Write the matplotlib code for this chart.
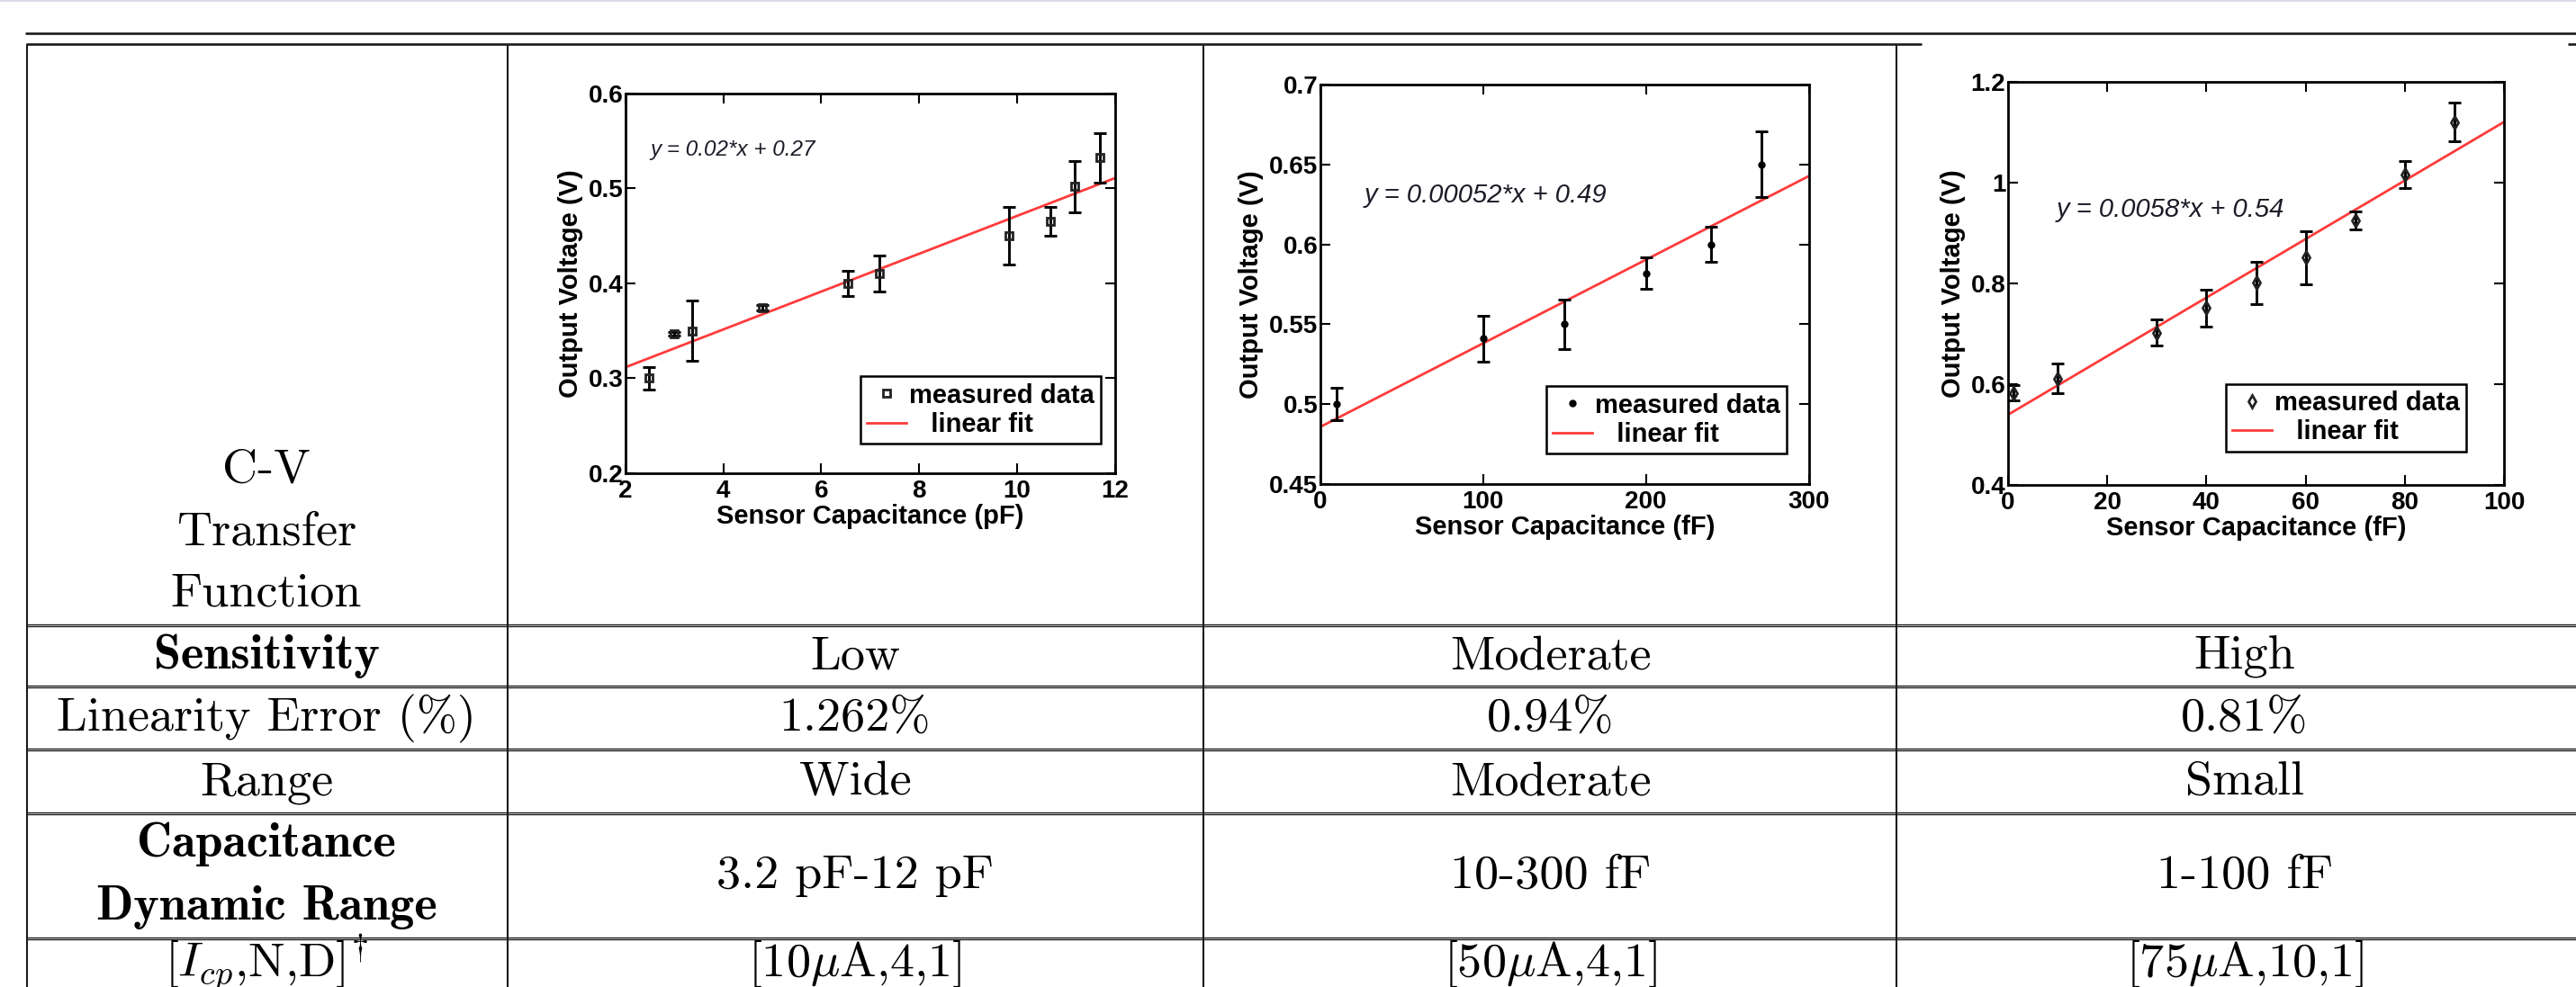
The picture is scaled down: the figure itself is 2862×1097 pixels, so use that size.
import numpy as np
import matplotlib.pyplot as plt
from matplotlib.ticker import FormatStrFormatter

# ---- data ----
cap_low = [2.47, 2.99, 3.36, 4.79, 6.55, 7.18, 9.84, 10.69, 11.19, 11.69]        # pF
volt_low = [0.300, 0.347, 0.350, 0.374, 0.400, 0.410, 0.450, 0.465, 0.502, 0.532]
err_low = [0.012, 0.002, 0.032, 0.003, 0.013, 0.019, 0.030, 0.015, 0.027, 0.026]
fit_low = (0.0199, 0.2718)

cap_mod = [10, 100, 150, 200, 240, 271]                                            # fF
volt_mod = [0.500, 0.541, 0.550, 0.582, 0.600, 0.650]
err_mod = [0.010, 0.0145, 0.0153, 0.010, 0.011, 0.0206]
fit_mod = (0.000523, 0.4858)

cap_high = [1, 10, 30, 40, 50, 60, 70, 80, 90]                                     # fF
volt_high = [0.582, 0.611, 0.702, 0.751, 0.801, 0.851, 0.926, 1.017, 1.121]
err_high = [0.015, 0.029, 0.026, 0.037, 0.0415, 0.053, 0.018, 0.027, 0.039]
fit_high = (0.00582, 0.539)

eq_texts = ['y = 0.02*x + 0.27', 'y = 0.00052*x + 0.49', 'y = 0.0058*x + 0.54']
xlabels = ['Sensor Capacitance (pF)', 'Sensor Capacitance (fF)', 'Sensor Capacitance (fF)']
xticks = [[2, 4, 6, 8, 10, 12], [0, 100, 200, 300], [0, 20, 40, 60, 80, 100]]
yticks = [[0.2, 0.3, 0.4, 0.5, 0.6], [0.45, 0.5, 0.55, 0.6, 0.65, 0.7],
          [0.4, 0.6, 0.8, 1.0, 1.2]]

# ---- table text ----
first_cell = ['C-V', 'Transfer', 'Function']
sensitivity = ['Low', 'Moderate', 'High']
linearity = ['1.262%', '0.94%', '0.81%']
ranges = ['Wide', 'Moderate', 'Small']
dyn_range = ['3.2 pF-12 pF', '10-300 fF', '1-100 fF']
icp_nd = [r'[10$\mu$A,4,1]', r'[50$\mu$A,4,1]', r'[75$\mu$A,10,1]']

W, H = 2862, 1097
plt.rcParams['mathtext.fontset'] = 'cm'
plt.rcParams['axes.unicode_minus'] = False

fig = plt.figure(figsize=(W / 100, H / 100), dpi=100)
fig.patch.set_facecolor('white')

# background axes in pixel coordinates for the table rules and text
bg = fig.add_axes([0, 0, 1, 1])
bg.set_xlim(0, W)
bg.set_ylim(H, 0)
bg.axis('off')

def rule(x0, x1, y, lw=1.9, color='#1a1a1a'):
    bg.plot([x0, x1], [y, y], color=color, lw=lw, solid_capstyle='butt')

rule(0, W, 0.8, lw=1.2, color='#d3d6e4')
rule(28, W, 36.5)
rule(29, 2135, 49)
rule(2853, W, 49)
for y in [695, 763, 833, 904, 1043]:
    rule(29, W, y - 1.0, lw=0.95)
    rule(29, W, y + 1.4, lw=0.95)
for x in [30, 564, 1337, 2107]:
    bg.plot([x, x], [49, H], color='#1a1a1a', lw=1.5, solid_capstyle='butt')

col_x = [296, 950, 1723, 2494]
rm = dict(family='cmr10', fontsize=39, ha='center', va='baseline', color='black')
bf = dict(rm, family='cmb10')

for txt, yb in zip(first_cell, [536, 605, 674]):
    bg.text(col_x[0], yb, txt, **rm)
bg.text(col_x[0], 743, 'Sensitivity', **bf)
bg.text(col_x[0], 812, 'Linearity Error (%)', **rm)
bg.text(col_x[0], 883, 'Range', **rm)
bg.text(col_x[0], 952, 'Capacitance', **bf)
bg.text(col_x[0], 1022, 'Dynamic Range', **bf)
bg.text(col_x[0], 1085, r'$[I_{cp}$,N,D$]^{\dagger}$', **rm)
for i in range(3):
    bg.text(col_x[i + 1], 743, sensitivity[i], **rm)
    bg.text(col_x[i + 1], 812, linearity[i], **rm)
    bg.text(col_x[i + 1], 883, ranges[i], **rm)
    bg.text(col_x[i + 1], 987, dyn_range[i], **rm)
    bg.text(col_x[i + 1], 1085, icp_nd[i], **rm)


def px_rect(l, t, r, b):
    return [l / W, 1 - b / H, (r - l) / W, (b - t) / H]


panels = [
    dict(rect=px_rect(695, 103.6, 1238.5, 526), x=cap_low, y=volt_low, e=err_low, fit=fit_low,
         marker='s', ms=6, xlim=(2, 12), ylim=(0.2, 0.6), eq_pos=(0.05, 0.85), eq_size=17.5,
         leg=(0.48, 0.255)),
    dict(rect=px_rect(1467, 94, 2009.5, 538), x=cap_mod, y=volt_mod, e=err_mod, fit=fit_mod,
         marker='o', ms=5, xlim=(0, 300), ylim=(0.45, 0.7), eq_pos=(0.09, 0.723), eq_size=21,
         leg=(0.463, 0.245)),
    dict(rect=px_rect(2231, 91.4, 2782, 538.6), x=cap_high, y=volt_high, e=err_high, fit=fit_high,
         marker='d', ms=7, xlim=(0, 100), ylim=(0.4, 1.2), eq_pos=(0.098, 0.683), eq_size=21,
         leg=(0.439, 0.25)),
]

sans = 'Liberation Sans'
for i, p in enumerate(panels):
    ax = fig.add_axes(p['rect'])
    fx = np.array(p['xlim'], dtype=float)
    ax.plot(fx, p['fit'][0] * fx + p['fit'][1], color='#ff3b3b', lw=2.0, zorder=2,
            label='   linear fit')
    ax.errorbar(p['x'], p['y'], yerr=p['e'], fmt='none', ecolor='black', elinewidth=2.1,
                capsize=4.7, capthick=2.1, zorder=3)
    if p['marker'] == 'o':
        ax.plot(p['x'], p['y'], 'o', ms=p['ms'], color='black', ls='none', zorder=4,
                label='measured data')
    else:
        ax.plot(p['x'], p['y'], p['marker'], ms=p['ms'], mfc='none', mec='#222222', mew=2.0,
                ls='none', zorder=4, label='measured data')

    ax.set_xlim(*p['xlim'])
    ax.set_ylim(*p['ylim'])
    ax.set_xticks(xticks[i])
    ax.set_yticks(yticks[i])
    ax.yaxis.set_major_formatter(FormatStrFormatter('%g'))
    ax.tick_params(direction='in', length=8, width=1.5, top=True, right=True,
                   labelsize=20, pad=5)
    ax.tick_params(axis='y', pad=2)
    for lab in ax.get_xticklabels() + ax.get_yticklabels():
        lab.set_fontfamily(sans)
        lab.set_fontweight('bold')
    for s in ax.spines.values():
        s.set_linewidth(2.0)
    ax.set_xlabel(xlabels[i], fontsize=21, fontweight='bold', family=sans, labelpad=1)
    ax.set_ylabel('Output Voltage (V)', fontsize=21, fontweight='bold', family=sans, labelpad=4)

    ax.text(p['eq_pos'][0], p['eq_pos'][1], eq_texts[i], transform=ax.transAxes,
            fontsize=p['eq_size'], style='italic', family=sans, color='#1c1c28',
            ha='left', va='center')

    handles, labels = ax.get_legend_handles_labels()
    order = [1, 0]
    leg = ax.legend([handles[k] for k in order], [labels[k] for k in order],
                    loc='upper left', bbox_to_anchor=p['leg'], borderaxespad=0,
                    prop=dict(family=sans, weight='bold', size=21), fancybox=False,
                    edgecolor='black', framealpha=1, handlelength=1.5, handletextpad=0.1,
                    borderpad=0.25, labelspacing=0.15)
    leg.get_frame().set_linewidth(1.8)

fig.savefig('out.png', dpi=100, facecolor='white')
